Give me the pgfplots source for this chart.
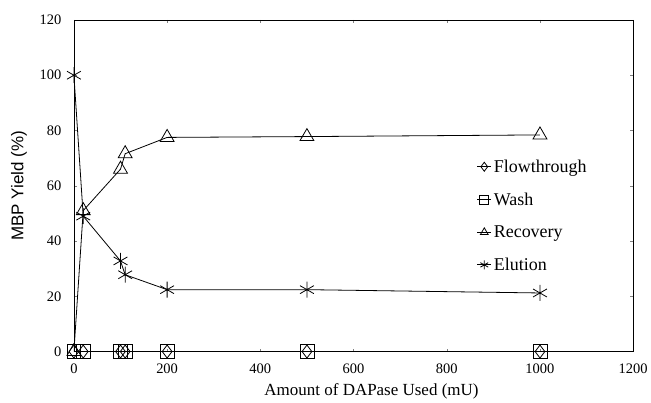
\documentclass[border=0pt]{standalone}
\usepackage{pgfplots}
\pgfplotsset{compat=1.18}
\usepackage{fontspec}
\setmainfont{Liberation Serif}
\newfontfamily\arialf{Liberation Sans}
\begin{document}
\begin{tikzpicture}
\begin{axis}[
  scale only axis, width=560pt, height=332pt,
  xmin=0, xmax=1200, ymin=0, ymax=120,
  xtick={0,200,...,1200}, ytick={0,20,...,120},
  tick align=inside, major tick length=3pt,
  /pgf/number format/assume math mode=true,
  /pgf/number format/1000 sep={},
  ticklabel style={font=\fontsize{14.5}{16}\selectfont},
  x tick label style={yshift=-9pt},
  y tick label style={xshift=-9pt},
  xlabel={Amount of DAPase Used (mU)},
  ylabel={\arialf MBP Yield (\%)},
  label style={font=\fontsize{17}{20}\selectfont},
  xlabel style={yshift=-3pt, xshift=18pt},
  ylabel style={yshift=6pt},
  axis line style={black, line width=0.8pt},
  legend style={draw=none, fill=none, at={(rel axis cs:0.72,0.585)}, anchor=north west,
    font=\fontsize{18}{20}\selectfont, row sep=15pt, inner sep=0pt},
  legend cell align=left,
  legend image code/.code={\draw[mark size=4.5pt, mark repeat=2, mark phase=2] plot coordinates {(0cm,0cm)(0.25cm,0cm)(0.5cm,0cm)};},
  every axis plot/.append style={black, line width=0.8pt, mark options={solid, fill=none, line width=0.8pt}},
]
\addplot[mark=diamond, mark size=6.5pt] coordinates {(0,0)(20,0)(100,0)(110,0)(200,0)(500,0)(1000,0)};
\addlegendentry{Flowthrough}
\addplot[mark=square, mark size=7pt] coordinates {(0,0)(20,0)(100,0)(110,0)(200,0)(500,0)(1000,0)};
\addlegendentry{Wash}
\addplot[mark=triangle, mark size=8pt] coordinates {(0,0)(20,51)(100,66)(110,71.6)(200,77.5)(500,77.8)(1000,78.4)};
\addlegendentry{Recovery}
\addplot[mark=asterisk, mark size=8pt] coordinates {(0,100)(20,49)(100,32.8)(110,27.8)(200,22.4)(500,22.4)(1000,21.2)};
\addlegendentry{Elution}
\coordinate (bl) at (rel axis cs:0,0);
\coordinate (tr) at (rel axis cs:1,1);
\end{axis}
\path ([shift={(-74pt,-51pt)}]bl) rectangle ([shift={(17pt,20pt)}]tr);
\end{tikzpicture}
\end{document}
